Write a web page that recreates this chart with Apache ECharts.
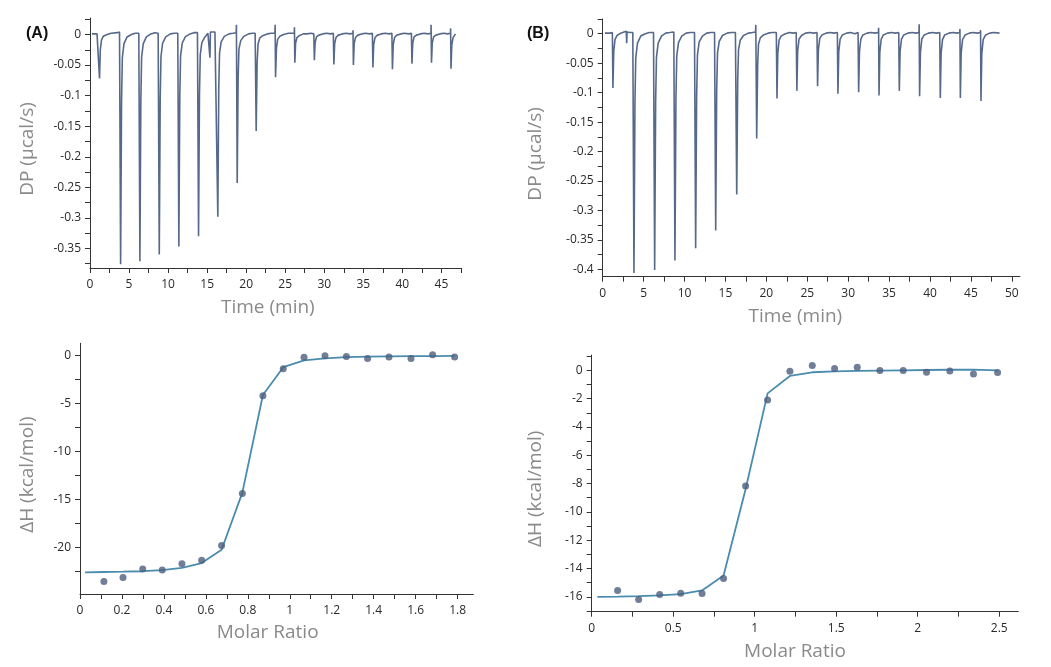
<!DOCTYPE html>
<html><head><meta charset="utf-8">
<script src="https://cdn.jsdelivr.net/npm/echarts@6.0.0/dist/echarts.min.js"></script>
<style>html,body{margin:0;padding:0;background:#fff}#c{width:1051px;height:667px}</style>
</head><body><div id="c"></div>
<script>
// ---- Panel A thermogram: [time (min), DP (µcal/s)] ----
const thermoA = [
[0.25,0.001],[0.9,0.001],[1.15,0.002],
[1.22,-0.072],[1.32,-0.025],[1.47,-0.009],[1.7,-0.003],[2.2,0.000],[2.7,0.002],[3.5,0.003],[3.78,0.004],
[3.92,-0.376],[4.04,-0.11],[4.14,-0.038],[4.35,-0.015],[4.75,-0.004],[5.3,0.000],[5.8,0.002],[6.25,0.002],
[6.39,-0.371],[6.51,-0.108],[6.61,-0.037],[6.82,-0.015],[7.22,-0.004],[7.8,0.001],[8.3,0.003],[8.73,0.002],
[8.87,-0.360],[8.99,-0.105],[9.09,-0.036],[9.3,-0.014],[9.7,-0.004],[10.3,0.001],[10.8,0.002],[11.24,0.002],
[11.38,-0.347],[11.50,-0.10],[11.60,-0.035],[11.81,-0.014],[12.2,-0.004],[12.8,0.001],[13.3,0.003],[13.76,0.003],
[13.90,-0.330],[14.02,-0.096],[14.12,-0.033],[14.33,-0.013],[14.72,-0.004],[15.1,0.002],[15.3,0.004],
[15.36,-0.038],[15.42,0.004],[15.6,0.005],[16.0,0.004],[16.23,0.005],
[16.37,-0.298],[16.49,-0.087],[16.59,-0.030],[16.8,-0.012],[17.2,-0.003],[17.8,0.001],[18.3,0.002],[18.72,0.003],[18.75,0.016],
[18.85,-0.243],[18.97,-0.071],[19.07,-0.024],[19.3,-0.010],[19.7,-0.003],[20.3,0.001],[20.8,0.002],[21.15,0.002],
[21.28,-0.158],[21.40,-0.046],[21.52,-0.016],[21.73,-0.006],[22.1,-0.002],[22.7,0.001],[23.2,0.002],[23.68,0.002],[23.71,0.016],
[23.76,-0.070],[23.88,-0.022],[24.03,-0.008],[24.3,-0.003],[24.8,0.000],[25.4,0.002],[25.9,0.002],[26.16,0.002],[26.18,0.012],
[26.23,-0.046],[26.33,-0.014],[26.5,-0.005],[26.8,-0.002],[27.3,0.001],[27.8,0.001],[28.3,0.002],[28.66,0.001],
[28.73,-0.042],[28.83,-0.013],[29.0,-0.004],[29.3,-0.001],[29.8,0.001],[30.3,0.002],[30.8,0.001],[31.16,0.002],
[31.23,-0.049],[31.33,-0.015],[31.5,-0.005],[31.8,-0.001],[32.3,0.001],[32.8,0.002],[33.3,0.001],[33.66,0.002],[33.68,0.007],
[33.73,-0.050],[33.83,-0.015],[34.0,-0.005],[34.3,-0.001],[34.8,0.001],[35.3,0.002],[35.8,0.001],[36.16,0.002],
[36.23,-0.054],[36.33,-0.016],[36.5,-0.005],[36.8,-0.001],[37.3,0.001],[37.8,0.002],[38.3,0.001],[38.66,0.002],
[38.73,-0.057],[38.83,-0.017],[39.0,-0.005],[39.3,-0.001],[39.8,0.001],[40.3,0.002],[40.8,0.001],[41.16,0.002],
[41.23,-0.048],[41.33,-0.014],[41.5,-0.004],[41.8,-0.001],[42.3,0.001],[42.8,0.002],[43.3,0.001],[43.66,0.002],[43.68,0.016],
[43.73,-0.046],[43.83,-0.014],[44.0,-0.004],[44.3,-0.001],[44.8,0.001],[45.3,0.002],[45.8,0.001],[46.16,0.002],[46.18,0.010],
[46.23,-0.056],[46.33,-0.017],[46.5,-0.005],[46.7,-0.001],[46.8,0.001]
];
// ---- Panel B thermogram ----
const thermoB = [
[0.28,0.001],[0.9,0.001],[1.18,0.002],
[1.25,-0.092],[1.35,-0.03],[1.5,-0.01],[1.75,-0.003],[2.2,0.001],[2.6,0.003],[2.88,0.004],
[2.93,-0.016],[2.98,0.003],[3.3,0.002],[3.68,0.002],
[3.82,-0.406],[3.94,-0.118],[4.04,-0.041],[4.25,-0.016],[4.65,-0.004],[5.2,0.000],[5.7,0.002],[6.21,0.002],
[6.35,-0.401],[6.47,-0.116],[6.57,-0.04],[6.78,-0.016],[7.18,-0.004],[7.7,0.001],[8.2,0.002],[8.69,0.003],
[8.83,-0.385],[8.95,-0.112],[9.05,-0.038],[9.26,-0.015],[9.66,-0.004],[10.2,0.001],[10.7,0.002],[11.22,0.002],
[11.36,-0.364],[11.48,-0.106],[11.58,-0.036],[11.79,-0.014],[12.19,-0.004],[12.7,0.001],[13.2,0.002],[13.67,0.002],
[13.81,-0.334],[13.93,-0.097],[14.03,-0.033],[14.24,-0.013],[14.64,-0.003],[15.2,0.001],[15.7,0.002],[16.22,0.002],[16.26,0.005],
[16.38,-0.273],[16.50,-0.079],[16.60,-0.027],[16.81,-0.011],[17.2,-0.003],[17.8,0.001],[18.3,0.002],[18.68,0.003],[18.71,0.015],
[18.82,-0.178],[18.94,-0.052],[19.04,-0.018],[19.26,-0.007],[19.65,-0.002],[20.2,0.001],[20.7,0.002],[21.22,0.002],
[21.3,-0.11],[21.4,-0.033],[21.56,-0.011],[21.8,-0.004],[22.2,-0.001],[22.8,0.002],[23.3,0.001],[23.65,0.002],[23.68,0.005],
[23.73,-0.097],[23.83,-0.029],[24.0,-0.009],[24.3,-0.003],[24.8,0.001],[25.3,0.002],[25.8,0.001],[26.19,0.002],
[26.26,-0.089],[26.36,-0.027],[26.53,-0.008],[26.8,-0.002],[27.3,0.001],[27.8,0.002],[28.3,0.001],[28.68,0.002],
[28.75,-0.102],[28.85,-0.03],[29.02,-0.009],[29.3,-0.002],[29.8,0.001],[30.3,0.002],[30.8,0.000],[31.21,0.002],
[31.28,-0.0995],[31.38,-0.03],[31.55,-0.009],[31.8,-0.002],[32.3,0.001],[32.8,0.002],[33.3,0.001],[33.69,0.002],[33.72,0.01],
[33.77,-0.105],[33.87,-0.031],[34.04,-0.009],[34.3,-0.002],[34.8,0.001],[35.3,0.002],[35.8,0.001],[36.18,0.002],
[36.25,-0.097],[36.35,-0.029],[36.52,-0.009],[36.8,-0.002],[37.3,0.001],[37.8,0.002],[38.3,0.001],[38.65,0.002],[38.68,0.016],
[38.73,-0.106],[38.83,-0.032],[39.0,-0.009],[39.3,-0.002],[39.8,0.001],[40.3,0.002],[40.8,0.001],[41.19,0.002],
[41.26,-0.109],[41.36,-0.033],[41.53,-0.01],[41.8,-0.002],[42.3,0.001],[42.8,0.002],[43.3,0.001],[43.63,0.002],[43.66,0.008],
[43.71,-0.109],[43.81,-0.033],[43.98,-0.01],[44.3,-0.002],[44.8,0.001],[45.3,0.002],[45.8,0.001],[46.15,0.002],[46.18,0.006],
[46.23,-0.114],[46.33,-0.034],[46.5,-0.01],[46.8,-0.002],[47.3,0.001],[47.8,0.002],[48.5,0.001]
];
// ---- Panel A isotherm ----
const ratioA = [0.114,0.205,0.299,0.392,0.486,0.58,0.675,0.774,0.872,0.969,1.068,1.168,1.27,1.371,1.473,1.578,1.681,1.786];
const dhA    = [-23.59,-23.17,-22.3,-22.4,-21.74,-21.36,-19.82,-14.39,-4.18,-1.36,-0.17,0.0,-0.07,-0.28,-0.14,-0.28,0.1,-0.14];
const fitRatioA = [0.024,0.114,0.205,0.299,0.392,0.486,0.58,0.675,0.774,0.872,0.969,1.068,1.168,1.27,1.371,1.473,1.578,1.681,1.786];
const fitDhA    = [-22.65,-22.6,-22.57,-22.52,-22.4,-22.16,-21.67,-20.28,-14.3,-4.1,-1.2,-0.49,-0.28,-0.15,-0.1,-0.06,-0.04,-0.03,-0.02];
// ---- Panel B isotherm ----
const ratioB = [0.159,0.288,0.417,0.546,0.677,0.809,0.944,1.079,1.216,1.353,1.49,1.629,1.768,1.911,2.054,2.197,2.342,2.49];
const dhB    = [-15.55,-16.19,-15.84,-15.74,-15.76,-14.70,-8.18,-2.10,-0.07,0.33,0.12,0.21,-0.02,-0.02,-0.14,-0.05,-0.26,-0.16];
const fitRatioB = [0.035,0.159,0.288,0.417,0.546,0.677,0.809,0.944,1.079,1.216,1.353,1.49,1.629,1.768,1.911,2.054,2.197,2.342,2.49];
const fitDhB    = [-16.0,-15.98,-15.95,-15.9,-15.81,-15.55,-14.5,-8.4,-1.63,-0.4,-0.14,-0.07,-0.04,-0.02,0.0,0.02,0.04,0.05,0.0];
// ---- tick labels / tick positions ----
const timeLabelsA = [0,5,10,15,20,25,30,35,40,45];
const timeTicksA  = [0,2.5,5,7.5,10,12.5,15,17.5,20,22.5,25,27.5,30,32.5,35,37.5,40,42.5,45,47.5];
const dpLabelsA   = [0,-0.05,-0.1,-0.15,-0.2,-0.25,-0.3,-0.35];
const dpTicksA    = [0.025,0,-0.025,-0.05,-0.075,-0.1,-0.125,-0.15,-0.175,-0.2,-0.225,-0.25,-0.275,-0.3,-0.325,-0.35,-0.375];
const timeLabelsB = [0,5,10,15,20,25,30,35,40,45,50];
const timeTicksB  = [0,2.5,5,7.5,10,12.5,15,17.5,20,22.5,25,27.5,30,32.5,35,37.5,40,42.5,45,47.5,50];
const dpLabelsB   = [0,-0.05,-0.1,-0.15,-0.2,-0.25,-0.3,-0.35,-0.4];
const dpTicksB    = [0.025,0,-0.025,-0.05,-0.075,-0.1,-0.125,-0.15,-0.175,-0.2,-0.225,-0.25,-0.275,-0.3,-0.325,-0.35,-0.375,-0.4];
const mrLabelsA   = [0,0.2,0.4,0.6,0.8,1,1.2,1.4,1.6,1.8];
const mrTicksA    = [0,0.1,0.2,0.3,0.4,0.5,0.6,0.7,0.8,0.9,1,1.1,1.2,1.3,1.4,1.5,1.6,1.7,1.8];
const dhLabelsA   = [0,-5,-10,-15,-20];
const dhTicksA    = [0,-2.5,-5,-7.5,-10,-12.5,-15,-17.5,-20,-22.5];
const mrLabelsB   = [0,0.5,1,1.5,2,2.5];
const mrTicksB    = [0,0.25,0.5,0.75,1,1.25,1.5,1.75,2,2.25,2.5];
const dhLabelsB   = [0,-2,-4,-6,-8,-10,-12,-14,-16];
const dhTicksB    = [1,0,-1,-2,-3,-4,-5,-6,-7,-8,-9,-10,-11,-12,-13,-14,-15,-16,-17];

const FONT = '"Open Sans", "Noto Sans", sans-serif';
function axis(grid, min, max, labels, ticks, name, gap, pad, isX) {
  return {
    type: 'value', gridIndex: grid, min: min, max: max,
    name: name, nameLocation: 'middle', nameGap: gap,
    nameTextStyle: { color: '#8a8a8a', fontSize: 19, fontFamily: FONT, padding: pad },
    axisLine: { show: true, onZero: false, lineStyle: { color: '#333', width: 1 } },
    axisTick: { show: true, inside: false, length: 5, customValues: ticks, lineStyle: { color: '#333' } },
    axisLabel: { show: true, customValues: labels, color: '#2a2a2a', fontSize: 12, fontFamily: FONT, margin: isX ? 11 : 9 },
    splitLine: { show: false }
  };
}
const zip = (a, b) => a.map((v, i) => [v, b[i]]);

const chart = echarts.init(document.getElementById('c'), null, { renderer: 'canvas' });
chart.setOption({
  animation: false,
  backgroundColor: '#fff',
  title: [
    { text: '(A)', left: 21, top: 21, textStyle: { fontSize: 16, fontWeight: 'bold', color: '#111', fontFamily: 'Liberation Sans, Arial, sans-serif' } },
    { text: '(B)', left: 522, top: 21, textStyle: { fontSize: 16, fontWeight: 'bold', color: '#111', fontFamily: 'Liberation Sans, Arial, sans-serif' } }
  ],
  grid: [
    { left: 90, top: 18, width: 371.7, height: 250 },
    { left: 602.7, top: 19, width: 417.3, height: 257.7 },
    { left: 80, top: 343.3, width: 393.3, height: 250.7 },
    { left: 591.7, top: 355, width: 426.6, height: 256.7 }
  ],
  xAxis: [
    axis(0, 0, 47.6, timeLabelsA, timeTicksA, 'Time (min)', 30, [0, 16, 0, 0], true),
    axis(1, 0, 51, timeLabelsB, timeTicksB, 'Time (min)', 30, [0, 32, 0, 0], true),
    axis(2, 0, 1.875, mrLabelsA, mrTicksA, 'Molar Ratio', 29, [0, 18, 0, 0], true),
    axis(3, 0, 2.617, mrLabelsB, mrTicksB, 'Molar Ratio', 30, [0, 20, 0, 0], true)
  ],
  yAxis: [
    axis(0, -0.382, 0.027, dpLabelsA, dpTicksA, 'DP (µcal/s)', 53, [0, 12, 0, 0], false),
    axis(1, -0.4125, 0.025, dpLabelsB, dpTicksB, 'DP (µcal/s)', 58, [0, 12, 0, 0], false),
    axis(2, -24.9, 1.3, dhLabelsA, dhTicksA, 'ΔH (kcal/mol)', 43, [0, 12, 0, 0], false),
    axis(3, -17.05, 1.08, dhLabelsB, dhTicksB, 'ΔH (kcal/mol)', 47, [0, 11, 0, 0], false)
  ],
  series: [
    { type: 'line', xAxisIndex: 0, yAxisIndex: 0, data: thermoA, showSymbol: false, symbol: 'none',
      lineStyle: { color: '#57698a', width: 1.6 } },
    { type: 'line', xAxisIndex: 1, yAxisIndex: 1, data: thermoB, showSymbol: false, symbol: 'none',
      lineStyle: { color: '#57698a', width: 1.6 } },
    { type: 'line', xAxisIndex: 2, yAxisIndex: 2, data: zip(fitRatioA, fitDhA), showSymbol: false, symbol: 'none',
      lineStyle: { color: '#4a8cae', width: 1.8 }, z: 2 },
    { type: 'scatter', xAxisIndex: 2, yAxisIndex: 2, data: zip(ratioA, dhA), symbol: 'circle', symbolSize: 7,
      itemStyle: { color: '#4e5e7e' }, z: 3 },
    { type: 'line', xAxisIndex: 3, yAxisIndex: 3, data: zip(fitRatioB, fitDhB), showSymbol: false, symbol: 'none',
      lineStyle: { color: '#4a8cae', width: 1.8 }, z: 2 },
    { type: 'scatter', xAxisIndex: 3, yAxisIndex: 3, data: zip(ratioB, dhB), symbol: 'circle', symbolSize: 7,
      itemStyle: { color: '#4e5e7e' }, z: 3 }
  ]
});
</script>
</body></html>
